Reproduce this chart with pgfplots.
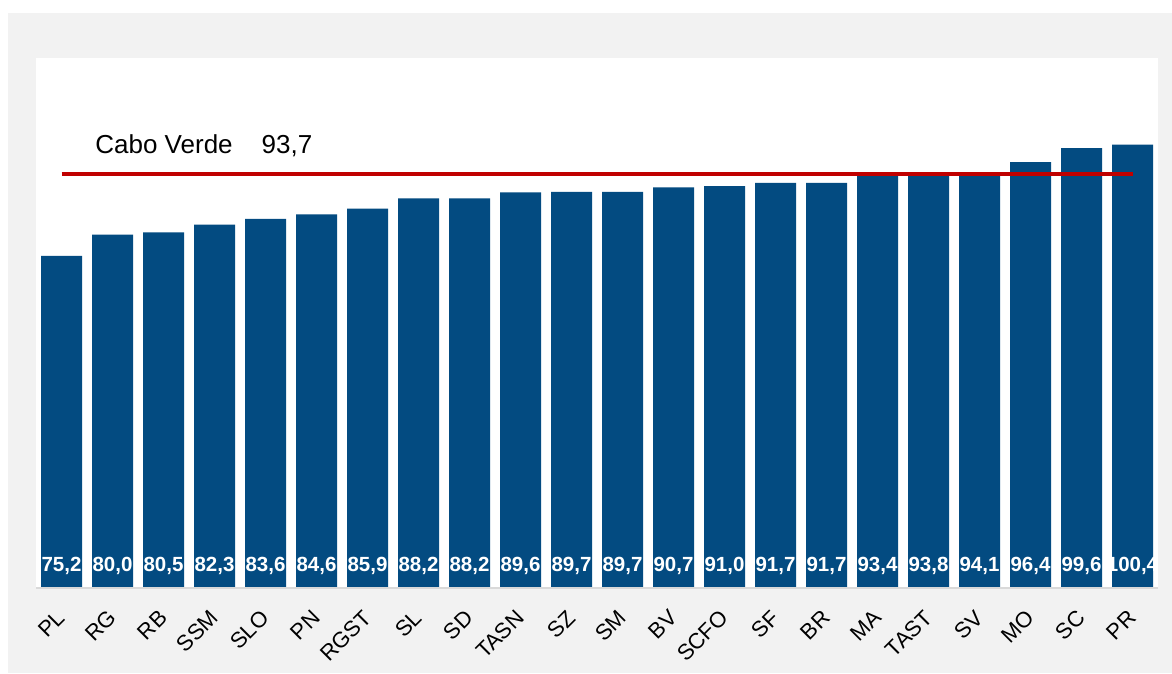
\documentclass[border=0pt]{standalone}
\usepackage{pgfplots}
\pgfplotsset{compat=1.18}
\usepackage{pgfplotstable}
\usepackage{fontspec}
\setmainfont{Liberation Sans}
\definecolor{bgray}{HTML}{F2F2F2}
\definecolor{barblue}{HTML}{034B81}
\definecolor{cvred}{HTML}{C00000}
\definecolor{axgray}{HTML}{D9D9D9}
\pgfplotstableread{
x y
0 75.2
1 80.0
2 80.5
3 82.3
4 83.6
5 84.6
6 85.9
7 88.2
8 88.2
9 89.6
10 89.7
11 89.7
12 90.7
13 91.0
14 91.7
15 91.7
16 93.4
17 93.8
18 94.1
19 96.4
20 99.6
21 100.4
}\data
\begin{document}
\begin{tikzpicture}
\useasboundingbox (0,0) rectangle (1172pt,673pt);
\fill[white] (0,0) rectangle (1172pt,673pt);
\fill[bgray] (8pt,0) rectangle (1172pt,660pt);
\begin{axis}[
  at={(36pt,85pt)}, anchor=south west,
  scale only axis, width=1122pt, height=530pt,
  axis background/.style={fill=white},
  xmin=-0.5, xmax=21.5, ymin=0, ymax=120,
  axis line style={draw=none},
  ytick=\empty,
  xtick={0,...,21},
  xticklabels={PL,RG,RB,SSM,SLO,PN,RGST,SL,SD,TASN,SZ,SM,BV,SCFO,SF,BR,MA,TAST,SV,MO,SC,PR},
  major tick length=0pt,
  xticklabel style={rotate=45, anchor=north east, font=\fontsize{22}{24}\selectfont, inner sep=0pt, xshift=-18.6pt, yshift=-10.4pt},
  clip=false,
]
\addplot[ybar, bar width=41pt, fill=barblue, draw=none,
  nodes near coords,
  point meta=y,
  visualization depends on={rawy \as \rawy},
  every node near coord/.append style={/pgf/number format/assume math mode=true, /pgf/number format/use comma, /pgf/number format/fixed, /pgf/number format/fixed zerofill, /pgf/number format/precision=1,
    anchor=center, shift={(axis direction cs:0,-\rawy)}, yshift=22pt,
    font=\fontsize{20.5}{24}\selectfont\bfseries, text=white, inner sep=0pt},
] table[x=x,y=y] {\data};
\draw[axgray, line width=1.2pt] (axis cs:-0.5,0) -- (axis cs:21.5,0);
\addplot[cvred, line width=3.5pt] coordinates {(0,93.7) (21,93.7)};
\node[anchor=west, font=\fontsize{26}{30}\selectfont, inner sep=0pt] at (axis cs:0.66,100.2) {Cabo Verde\hspace{29pt}93,7};
\end{axis}
\end{tikzpicture}
\end{document}
